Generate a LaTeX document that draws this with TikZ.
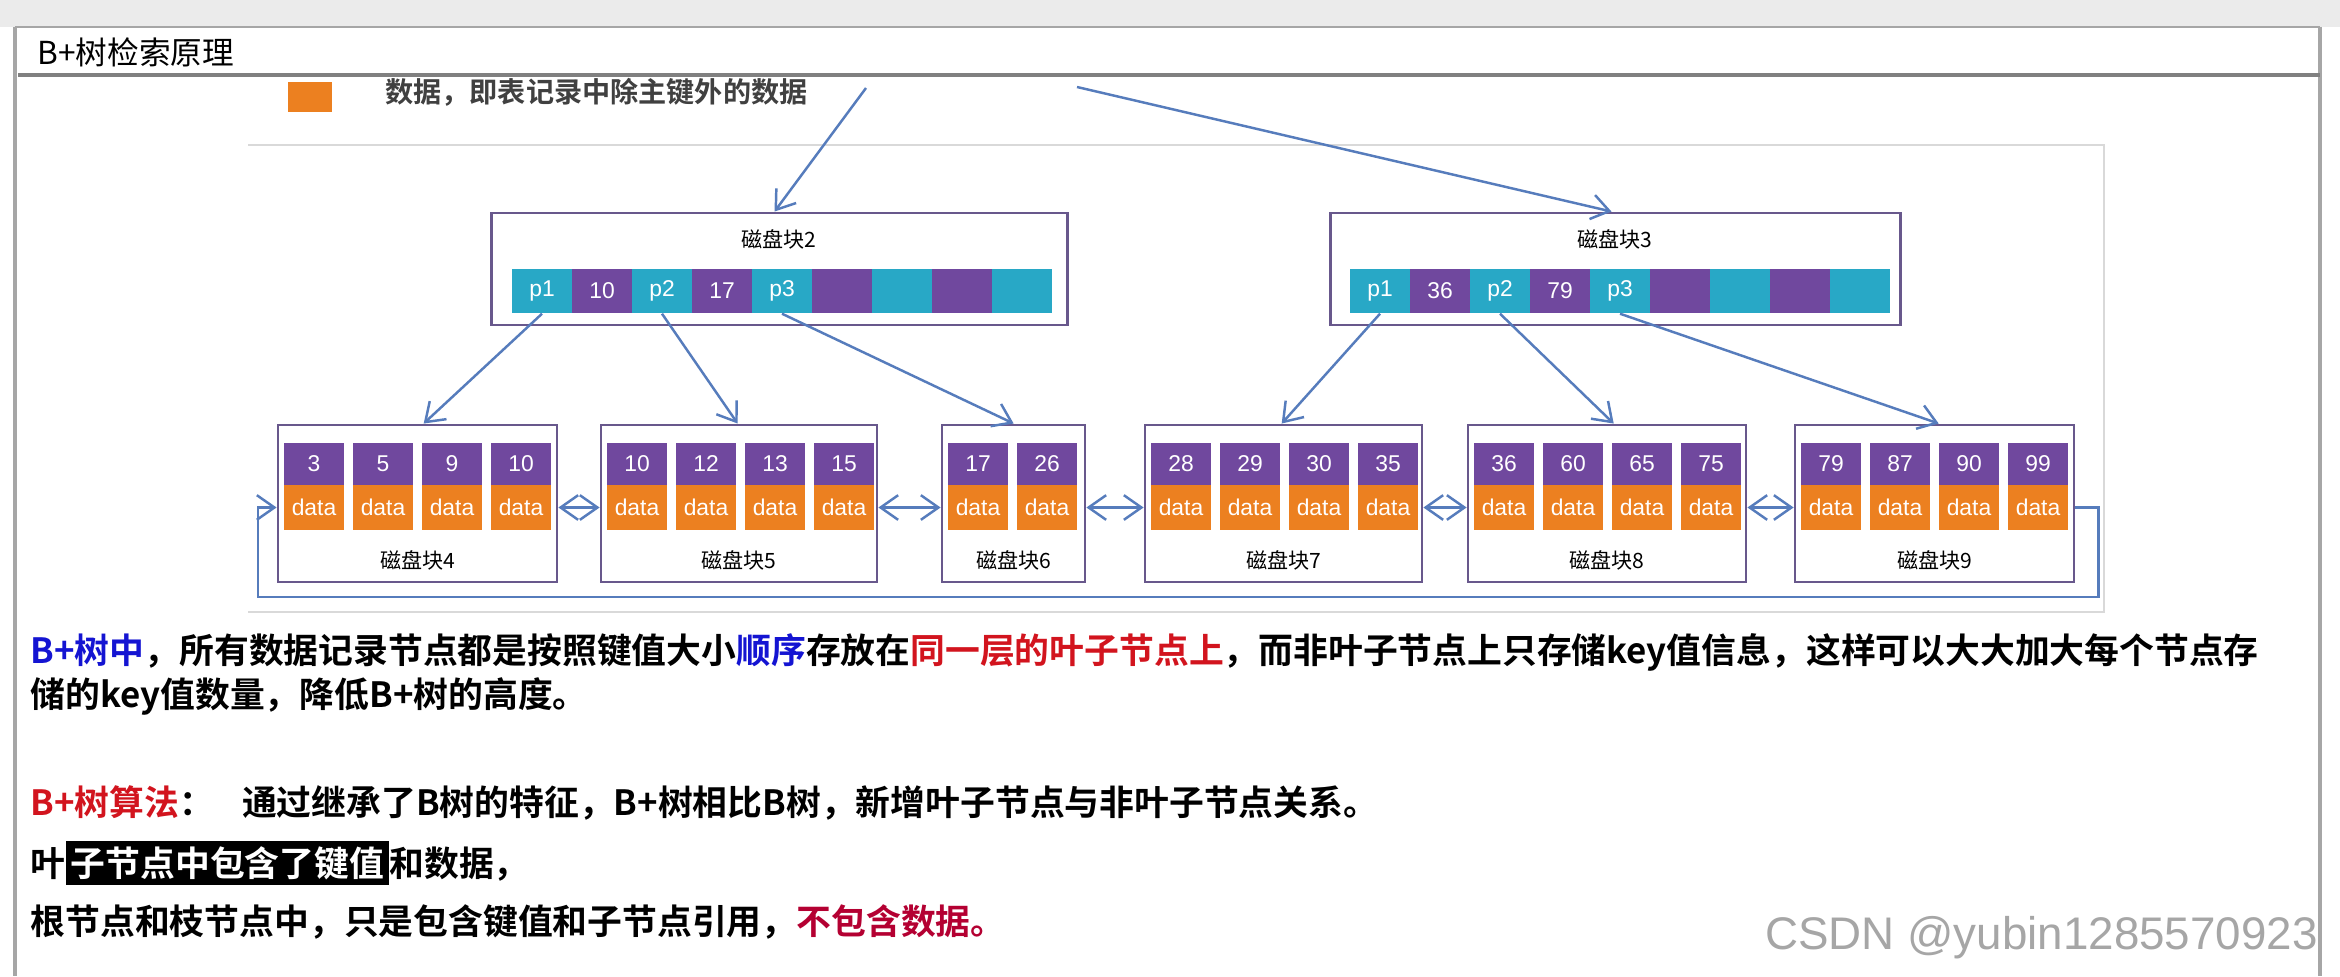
\documentclass[tikz,border=0pt]{standalone}
\usepackage{fontspec}
\setmainfont{Liberation Sans}
\newfontfamily\cjk{Noto Sans CJK SC}[BoldFont={Noto Sans CJK SC Bold}]
\usetikzlibrary{arrows.meta}
\definecolor{cellblue}{RGB}{40,168,198}
\definecolor{cellpurple}{RGB}{112,72,158}
\definecolor{celldata}{RGB}{236,128,32}
\definecolor{arrowblue}{RGB}{86,124,188}
\definecolor{boxline}{RGB}{104,88,140}
\definecolor{keyblue}{RGB}{20,20,210}
\definecolor{keyred}{RGB}{210,20,30}
\definecolor{keywine}{RGB}{180,0,50}
\tikzset{
  cell/.style={minimum width=0.6cm, minimum height=0.44cm, inner sep=0pt, text=white, font=\fontsize{6.5}{7}\selectfont},
  pcell/.style={cell, fill=cellblue},
  kcell/.style={cell, fill=cellpurple},
  dcell/.style={cell, fill=celldata},
  blk/.style={draw=boxline, line width=0.8pt},
  lbl/.style={font=\cjk\fontsize{6}{7}\selectfont},
  arr/.style={draw=arrowblue, line width=0.7pt, -{Straight Barb[length=5pt,width=7pt]}},
  darr/.style={draw=arrowblue, line width=0.7pt, {Straight Barb[length=5pt,width=7pt]}-{Straight Barb[length=5pt,width=7pt]}},
  txt/.style={anchor=west, inner sep=0pt, font=\cjk\bfseries\fontsize{9.9}{12}\selectfont}
}
\begin{document}
\begin{tikzpicture}[x=0.01cm, y=-0.01cm]
  \useasboundingbox (0,0) rectangle (2340,976);
  \fill[white] (0,0) rectangle (2340,976);
  \fill[black!8] (0,0) rectangle (2340,27);
  \draw[black!35, line width=1pt] (15,27) -- (15,976);
  \draw[black!35, line width=1pt] (2320,27) -- (2320,976);
  \draw[black!35, line width=0.6pt] (15,27) -- (2320,27);
  \draw[black!50, line width=1.2pt] (18,75) -- (2320,75);
  \node[anchor=west, font=\cjk\fontsize{9}{10}\selectfont] (title) at (25,52) {B+树检索原理};

  % legend (cut off at the top)
  \node[fill=celldata, minimum width=0.43cm, minimum height=0.3cm, inner sep=0pt] (legend) at (310,97) {};
  \node[anchor=west, font=\cjk\bfseries\fontsize{8}{9}\selectfont, text=black!75] (legtext) at (373,92) {数据，即表记录中除主键外的数据};
  \coordinate (root1) at (866,88);
  \coordinate (root2) at (1077,87);

  % diagram panel
  \draw[black!15, line width=0.8pt] (248,145) -- (2104,145) -- (2104,612) -- (248,612);

  % branch blocks
  \node[blk, minimum width=5.75cm, minimum height=1.12cm] (B2) at (779.5,269) {};
  \node[lbl] (B2t) at (779,239) {磁盘块2};
  \foreach \s/\t [count=\i] in {pcell/p1,kcell/10,pcell/p2,kcell/17,pcell/p3,kcell/,pcell/,kcell/,pcell/}
    \node[\s] (b2c\i) at (482+60*\i,291) {\t};
  \node[blk, minimum width=5.69cm, minimum height=1.12cm] (B3) at (1615.5,269) {};
  \node[lbl] (B3t) at (1615,239) {磁盘块3};
  \foreach \s/\t [count=\i] in {pcell/p1,kcell/36,pcell/p2,kcell/79,pcell/p3,kcell/,pcell/,kcell/,pcell/}
    \node[\s] (b3c\i) at (1320+60*\i,291) {\t};

  % leaf blocks
  \foreach \n/\l/\w/\keys in {4/278/279/{3,5,9,10},5/601/276/{10,12,13,15},6/942/143/{17,26},7/1145/277/{28,29,30,35},8/1468/278/{36,60,65,75},9/1795/279/{79,87,90,99}}{
    \node[blk, minimum width=\w*0.01cm, minimum height=1.57cm, inner sep=0pt] (L\n) at (\l+\w/2,503.5) {};
    \node[lbl] (L\n t) at (\l+\w/2,560) {磁盘块\n};
    \foreach \k [count=\j] in \keys {
      \node[kcell, minimum height=0.42cm] (k\n-\j) at (\l+6+30+69*\j-69,464) {\k};
      \node[dcell, minimum height=0.45cm] (d\n-\j) at (\l+6+30+69*\j-69,507.5) {data};
    }
  }

  % pointers
  \draw[arr] (root1) -- ([xshift=-0.5mm]B2.north);
  \draw[arr] (root2) -- ([xshift=-0.4mm]B3.north);
  \draw[arr] (b2c1.south) -- ([xshift=1.47cm]L4.north west);
  \draw[arr] (b2c3.south) -- ([xshift=1.38cm]L5.north west);
  \draw[arr] (b2c5.south) -- ([xshift=0.73cm]L6.north west);
  \draw[arr] (b3c1.south) -- ([xshift=1.38cm]L7.north west);
  \draw[arr] (b3c3.south) -- ([xshift=1.47cm]L8.north west);
  \draw[arr] (b3c5.south) -- ([xshift=1.45cm]L9.north west);

  % leaf links
  \foreach \a/\b in {4/5,5/6,6/7,7/8,8/9}
    \draw[darr] (L\a.east |- d\a-1) -- (L\b.west |- d\b-1);
  \draw[arr] (L9.east |- d9-1) -- ++(23,0) |- (258,597) |- (L4.west |- d4-1);

  % text
  \node[txt] (line1) at (30,652) {\textcolor{keyblue}{B+树中}，所有数据记录节点都是按照键值大小\textcolor{keyblue}{顺序}存放在\textcolor{keyred}{同一层的叶子节点上}，而非叶子节点上只存储key值信息，这样可以大大加大每个节点存};
  \node[txt] (line2) at (30,696) {储的key值数量，降低B+树的高度。};
  \node[txt] (line3) at (30,803) {\textcolor{keyred}{B+树算法}：\hspace{0.8em}通过继承了B树的特征，B+树相比B树，新增叶子节点与非叶子节点关系。};
  \node[txt] (line4) at (30,863) {叶{\setlength{\fboxsep}{1.5pt}\colorbox{black}{\textcolor{white}{子节点中包含了键值}}}和数据，};
  \node[txt] (line5) at (30,922) {根节点和枝节点中，只是包含键值和子节点引用，\textcolor{keywine}{不包含数据。}};
  \node[anchor=east, text=black!35, font=\fontsize{13}{15}\selectfont] (mark) at (2330,938) {CSDN @yubin1285570923};
\end{tikzpicture}
\end{document}
